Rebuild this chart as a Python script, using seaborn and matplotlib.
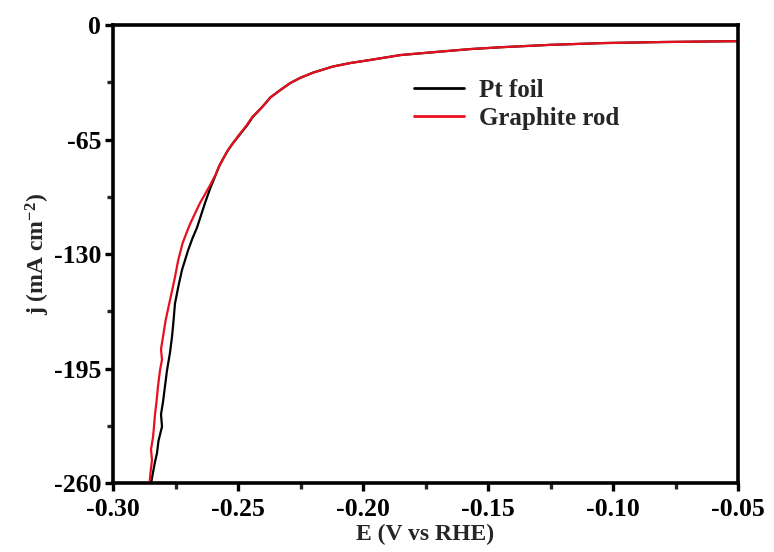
import matplotlib
matplotlib.use("Agg")
import matplotlib.pyplot as plt
import seaborn as sns
import pandas as pd
from matplotlib.ticker import MultipleLocator

# Data
pt_E = [-0.2850, -0.2840, -0.2832, -0.2824, -0.2818, -0.2804, -0.2808, -0.2800, -0.2792, -0.2784,
        -0.2778, -0.2772, -0.2764, -0.2758, -0.2752, -0.2738, -0.2724, -0.2700, -0.2682, -0.2664,
        -0.2648, -0.2632, -0.2612, -0.2592, -0.2575, -0.2560, -0.2540, -0.2520, -0.2492, -0.2464,
        -0.2440, -0.2420, -0.2400, -0.2370, -0.2332, -0.2292, -0.2252, -0.2200, -0.2120, -0.2050,
        -0.1972, -0.1850, -0.1704, -0.1570, -0.1440, -0.1250, -0.1040, -0.0800, -0.0500]
pt_j = [-262, -254, -248, -243, -236, -228, -221, -214, -205, -196,
        -191, -186, -177, -168, -158, -148, -139, -128, -121, -115,
        -108, -101, -93, -86, -80, -76, -71, -67, -62, -57,
        -52, -49, -46, -41, -37, -33, -30, -27, -23.5, -21.5,
        -19.8, -17, -15.2, -13.6, -12.5, -11.2, -10.2, -9.6, -9.1]

gr_E = [-0.2855, -0.2850, -0.2844, -0.2848, -0.2840, -0.2836, -0.2832, -0.2826, -0.2820, -0.2812,
        -0.2804, -0.2808, -0.2800, -0.2790, -0.2778, -0.2764, -0.2752, -0.2740, -0.2722, -0.2706,
        -0.2692, -0.2672, -0.2652, -0.2632, -0.2612, -0.2590, -0.2575, -0.2560, -0.2540, -0.2520,
        -0.2494, -0.2466, -0.2442, -0.2420, -0.2400, -0.2370, -0.2332, -0.2292, -0.2252, -0.2200,
        -0.2120, -0.2050, -0.1972, -0.1850, -0.1704, -0.1570, -0.1440, -0.1250, -0.1040, -0.0800,
        -0.0500]
gr_j = [-262, -254, -247, -241, -234, -228, -221, -214, -205, -196,
        -190, -184, -177, -168, -160, -151, -143, -134, -124, -118,
        -113, -107, -101, -96, -91, -85, -80, -76, -71, -67,
        -62, -57, -52, -49, -46, -41, -37, -33, -30, -27,
        -23.5, -21.5, -19.8, -17, -15.2, -13.6, -12.5, -11.2, -10.2, -9.6,
        -9.1]

series_names = ["Pt foil", "Graphite rod"]
series_colors = ["#000000", "#e8101e"]
x_ticks = [-0.30, -0.25, -0.20, -0.15, -0.10, -0.05]
y_ticks = [0, -65, -130, -195, -260]

df = pd.concat([
    pd.DataFrame({"E": pt_E, "j": pt_j, "s": series_names[0]}),
    pd.DataFrame({"E": gr_E, "j": gr_j, "s": series_names[1]}),
])

sns.set_theme(style="white")
plt.rcParams["font.family"] = ["Liberation Serif", "DejaVu Serif"]
plt.rcParams["font.weight"] = "bold"
plt.rcParams["mathtext.fontset"] = "custom"
plt.rcParams["mathtext.rm"] = "Liberation Serif:bold"
plt.rcParams["mathtext.it"] = "Liberation Serif:bold"
plt.rcParams["mathtext.bf"] = "Liberation Serif:bold"

fig = plt.figure(figsize=(7.74, 5.52), dpi=100)
ax = fig.add_axes([0.146, 0.125, 0.8075, 0.8295])

sns.lineplot(data=df, x="E", y="j", hue="s", palette=series_colors, sort=False,
             estimator=None, linewidth=1.6, ax=ax)

ax.set_xlim(-0.30, -0.05)
ax.set_ylim(-260, 0)
ax.set_xticks(x_ticks)
ax.set_xticklabels([f"{v:.2f}" for v in x_ticks])
ax.set_yticks(y_ticks)
ax.set_yticklabels([str(v) for v in y_ticks])
ax.xaxis.set_minor_locator(MultipleLocator(0.025))
ax.yaxis.set_minor_locator(MultipleLocator(32.5))

for sp in ax.spines.values():
    sp.set_linewidth(2.6)
    sp.set_color("black")
ax.tick_params(which="major", direction="out", length=6, width=2.4, labelsize=18.5,
               colors="black", pad=2.5, bottom=True, left=True)
ax.tick_params(axis="x", which="major", pad=5)
ax.tick_params(which="minor", direction="out", length=4, width=2.4, bottom=True, left=True)
for lbl in ax.get_xticklabels() + ax.get_yticklabels():
    lbl.set_fontweight("bold")

ax.set_xlabel("E (V vs RHE)", fontsize=17, fontweight="bold", labelpad=2)
ax.set_ylabel(r"j (mA cm$^{-2}$)", fontsize=17, fontweight="bold", labelpad=1)

leg = ax.legend(loc="upper left", bbox_to_anchor=(0.465, 0.905), frameon=False,
                prop={"size": 18, "weight": "bold"}, handlelength=2.0, labelspacing=0.2,
                handletextpad=0.6, borderaxespad=0)
for line in leg.get_lines():
    line.set_linewidth(2.0)

fig.savefig("out.png", dpi=100)
